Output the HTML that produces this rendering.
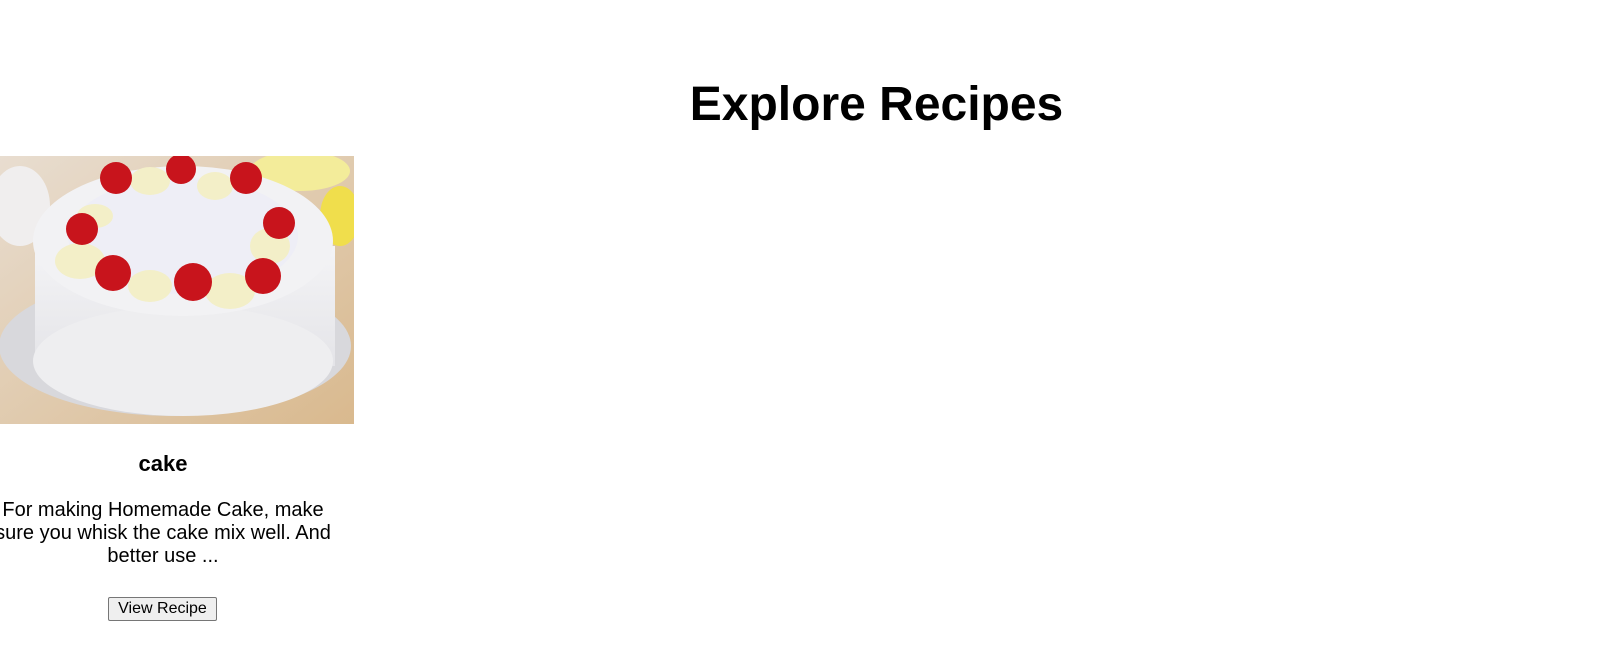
<!DOCTYPE html>
<html><head><style>
body{margin:0;width:1621px;height:656px;background:#fff;font-family:"Liberation Sans",Arial,sans-serif;position:relative;overflow:hidden}
h1{position:absolute;left:0;width:1753px;top:75px;margin:0;text-align:center;font-size:48px;font-weight:bold;line-height:60px}
.c{position:absolute;left:-20px;width:366px;text-align:center;white-space:nowrap}
.t{top:450px;font-size:22px;font-weight:bold;line-height:28px}
.d{top:499px;font-size:20px;line-height:23px}
button{position:absolute;left:108px;top:597px;width:109px;height:24px;font-family:"Liberation Sans",Arial,sans-serif;font-size:16px;background:#efefef;border:1px solid #767676;border-radius:2px;padding:0}
</style></head><body>
<h1>Explore Recipes</h1>
<svg style="position:absolute;left:0;top:156px" width="354" height="268" viewBox="0 0 354 268">
<defs>
<linearGradient id="bg" x1="0" y1="0" x2="1" y2="1"><stop offset="0" stop-color="#e8ddd0"/><stop offset="1" stop-color="#d9b98e"/></linearGradient>
<linearGradient id="side" x1="0" y1="0" x2="0" y2="1"><stop offset="0" stop-color="#f4f4f6"/><stop offset="1" stop-color="#e4e4e8"/></linearGradient>
</defs>
<rect width="354" height="268" fill="url(#bg)"/>
<ellipse cx="300" cy="15" rx="50" ry="20" fill="#f3ec9a"/>
<ellipse cx="340" cy="60" rx="20" ry="30" fill="#f0de4c"/>
<ellipse cx="20" cy="50" rx="30" ry="40" fill="#f0eeee"/>
<ellipse cx="175" cy="190" rx="176" ry="70" fill="#d8d8dc"/>
<rect x="35" y="90" width="300" height="120" fill="url(#side)"/>
<ellipse cx="183" cy="205" rx="150" ry="55" fill="#eeeef0"/>
<ellipse cx="183" cy="85" rx="150" ry="75" fill="#f2f2f4"/>
<ellipse cx="183" cy="80" rx="115" ry="58" fill="#eeeef6"/>
<g fill="#f3efc8">
<ellipse cx="150" cy="130" rx="22" ry="16"/><ellipse cx="230" cy="135" rx="25" ry="18"/><ellipse cx="80" cy="105" rx="25" ry="18"/><ellipse cx="270" cy="90" rx="20" ry="18"/><ellipse cx="150" cy="25" rx="20" ry="14"/><ellipse cx="215" cy="30" rx="18" ry="14"/><ellipse cx="95" cy="60" rx="18" ry="12"/>
</g>
<g fill="#c8141c">
<circle cx="116" cy="22" r="16"/><circle cx="181" cy="13" r="15"/><circle cx="246" cy="22" r="16"/><circle cx="279" cy="67" r="16"/><circle cx="82" cy="73" r="16"/><circle cx="113" cy="117" r="18"/><circle cx="193" cy="126" r="19"/><circle cx="263" cy="120" r="18"/>
</g>
</svg>
<div class="c t">cake</div>
<div class="c d">For making Homemade Cake, make<br>sure you whisk the cake mix well. And<br>better use ...</div>
<button>View Recipe</button>
</body></html>
